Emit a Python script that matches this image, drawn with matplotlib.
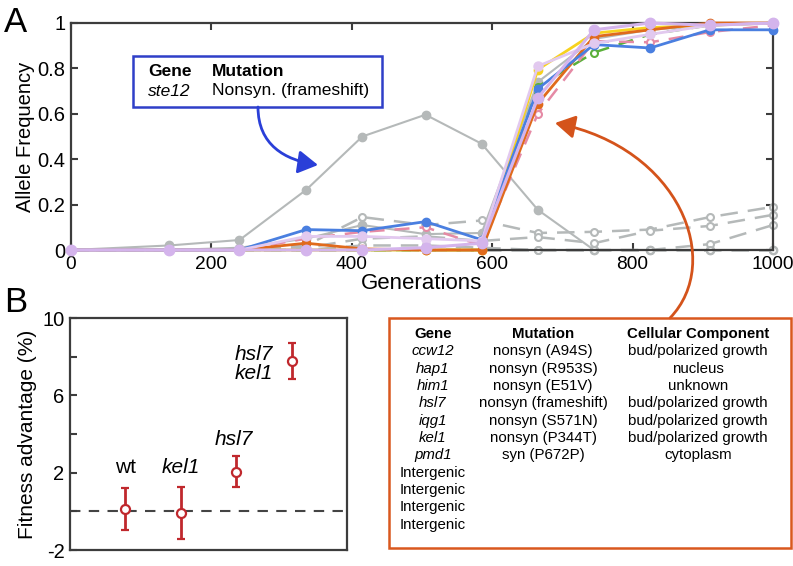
import numpy as np
import matplotlib
matplotlib.use('Agg')
import matplotlib.pyplot as plt
from matplotlib.patches import Rectangle, FancyArrowPatch
from matplotlib.path import Path

plt.rcParams['font.family'] = ['Liberation Sans', 'DejaVu Sans']

# ---- panel A data ----
gens = [0, 140, 240, 335, 415, 505, 585, 665, 745, 825, 910, 1000]

ste12 = [0, 0.02, 0.044, 0.265, 0.50, 0.596, 0.468, 0.177, 0, 0, 0, 0]
gray2 = [0, 0, 0.01, 0.05, 0.11, 0.07, 0.075, 0.74, 0.93, 0.97, 0.99, 1.0]
intergenic = [
    [0, 0, 0, 0.02, 0.145, 0.11, 0.13, 0.075, 0.08, 0.09, 0.145, 0.19],
    [0, 0, 0, 0.01, 0.05, 0.06, 0.04, 0.057, 0.03, 0.085, 0.106, 0.155],
    [0, 0, 0, 0.0, 0.02, 0.02, 0.01, 0.0, 0.0, 0.0, 0.026, 0.11],
    [0, 0, 0, 0.0, 0.0, 0.0, 0.0, 0.0, 0.0, 0.0, 0.0, 0.0],
]

blue = [0, 0, 0, 0.09, 0.085, 0.125, 0.045, 0.71, 0.905, 0.89, 0.97, 0.97]
orange = [0, 0, 0, 0.03, 0.005, 0.0, 0.0, 0.645, 0.94, 0.97, 1.0, 1.0]
yellow = [0, 0, 0, 0, 0, 0, 0, 0.795, 0.955, 0.98, 0.99, 1.0]
green = [0, 0, 0, 0, 0, 0, 0, 0.72, 0.87, 0.95, 0.99, 1.0]
pink = [0, 0, 0, 0.05, 0.08, 0.10, 0.02, 0.60, 0.92, 0.915, 0.96, 0.99]
lav_light = [0, 0, 0, 0.06, 0.06, 0.05, 0.04, 0.81, 0.91, 0.95, 0.99, 1.0]
lavender = [0, 0, 0, 0, 0, 0.01, 0.03, 0.67, 0.97, 1.0, 0.99, 1.0]

# ---- panel B data ----
genotypes = ['wt', 'kel1', 'hsl7', 'hsl7\nkel1']
fitness = [0.12, -0.08, 2.05, 7.78]
fitness_err = [1.1, 1.35, 0.8, 0.95]

# ---- table data ----
tab_genes = ['ccw12', 'hap1', 'him1', 'hsl7', 'iqg1', 'kel1', 'pmd1',
             'Intergenic', 'Intergenic', 'Intergenic', 'Intergenic']
tab_mut = ['nonsyn (A94S)', 'nonsyn (R953S)', 'nonsyn (E51V)', 'nonsyn (frameshift)',
           'nonsyn (S571N)', 'nonsyn (P344T)', 'syn (P672P)']
tab_comp = ['bud/polarized growth', 'nucleus', 'unknown', 'bud/polarized growth',
            'bud/polarized growth', 'bud/polarized growth', 'cytoplasm']

W, H = 793, 566
def fx(x):
    return x / W
def fy(y):
    return 1 - y / H

fig = plt.figure(figsize=(W / 100, H / 100), dpi=100)
spine_c = '#3c3c3c'
GRAY = '#b5b9b9'

# ================= panel A =================
ax = fig.add_axes([fx(71), fy(250), 702 / W, 227 / H])
for s in ax.spines.values():
    s.set_color(spine_c)
    s.set_linewidth(1.6)

ax.plot(gens, ste12, '-o', color=GRAY, lw=1.5, ms=6, clip_on=False, zorder=2)
ax.plot(gens, gray2, '-o', color=GRAY, lw=1.5, ms=6, clip_on=False, zorder=2)
for ser in intergenic:
    ax.plot(gens, ser, '--o', color=GRAY, lw=1.8, ms=5, mfc='white', mew=1.5,
            dashes=(7, 4), clip_on=False, zorder=2)

ax.plot(gens, green, '--o', color='#5bb03a', lw=1.8, ms=5, mfc='white', mew=1.5,
        dashes=(6, 4), clip_on=False, zorder=3)
ax.plot(gens, pink, '--o', color='#e58aa5', lw=1.8, ms=5, mfc='white', mew=1.5,
        dashes=(6, 4), clip_on=False, zorder=3)
ax.plot(gens, yellow, '-o', color='#f7d21e', lw=2, ms=6, clip_on=False, zorder=3)
ax.plot(gens, orange, '-o', color='#e06a1c', lw=2, ms=6, clip_on=False, zorder=3)
ax.plot(gens, blue, '-o', color='#4a7fe0', lw=2, ms=6, clip_on=False, zorder=4)
ax.plot(gens, lav_light, '-o', color='#e2c9ef', lw=2, ms=6.5, clip_on=False, zorder=4)
ax.plot(gens, lavender, '-o', color='#d4b4ec', lw=2.2, ms=7.5, clip_on=False, zorder=5)

ax.set_xlim(0, 1000)
ax.set_ylim(0, 1)
ax.set_xticks([0, 200, 400, 600, 800, 1000])
ax.set_yticks([0, 0.2, 0.4, 0.6, 0.8, 1])
ax.set_yticklabels(['0', '0.2', '0.4', '0.6', '0.8', '1'])
ax.tick_params(direction='in', length=5, width=1.5, color=spine_c,
               top=True, right=True, labelsize=14.5, pad=4)
ax.tick_params(axis='x', labelsize=13.8)
ax.set_xlabel('Generations', fontsize=16, labelpad=0)
ax.set_ylabel('Allele Frequency', fontsize=14.5, labelpad=2)

# ste12 annotation box
fig.patches.append(Rectangle((fx(133), fy(107)), 249 / W, 51 / H, transform=fig.transFigure,
                             fill=False, ec='#2f3fc8', lw=1.8))
fig.text(fx(148), fy(72), 'Gene', fontsize=12.5, fontweight='bold', va='center')
fig.text(fx(212), fy(72), 'Mutation', fontsize=12.5, fontweight='bold', va='center')
fig.text(fx(148), fy(91), 'ste12', fontsize=12.5, style='italic', va='center')
fig.text(fx(212), fy(91), 'Nonsyn. (frameshift)', fontsize=12.5, va='center')

blue_path = Path([(fx(258), fy(107)), (fx(258), fy(145)), (fx(285), fy(160)), (fx(318), fy(165))],
                 [Path.MOVETO, Path.CURVE4, Path.CURVE4, Path.CURVE4])
fig.patches.append(FancyArrowPatch(path=blue_path, transform=fig.transFigure,
                                   arrowstyle='-|>,head_length=12,head_width=7',
                                   color='#2a3fd8', lw=2))

orange_path = Path([(fx(670), fy(318)), (fx(724), fy(262)), (fx(680), fy(148)), (fx(555), fy(123))],
                   [Path.MOVETO, Path.CURVE4, Path.CURVE4, Path.CURVE4])
fig.patches.append(FancyArrowPatch(path=orange_path, transform=fig.transFigure,
                                   arrowstyle='-|>,head_length=12,head_width=7',
                                   color='#d4531b', lw=2))

# ================= panel B =================
bx = fig.add_axes([fx(70), fy(550), 277 / W, 232 / H])
for s in bx.spines.values():
    s.set_color(spine_c)
    s.set_linewidth(1.6)
xpos = np.arange(1, len(genotypes) + 1)
bx.axhline(0, color='#444444', lw=1.5, dashes=(5, 4), zorder=1)
bx.errorbar(xpos, fitness, yerr=fitness_err, fmt='o', color='#c0282d', ms=6.5,
            mfc='white', mew=1.6, elinewidth=2, capsize=3, capthick=2, zorder=3)
bx.set_xlim(0, 5)
bx.set_ylim(-2, 10)
bx.set_xticks([])
bx.set_yticks([-2, 0, 2, 4, 6, 8, 10])
bx.set_yticklabels(['-2', '', '2', '', '6', '', '10'])
bx.tick_params(axis='y', direction='in', length=5, width=1.5, color=spine_c,
               labelsize=14.5, pad=4)
bx.set_ylabel('Fitness advantage (%)', fontsize=15, labelpad=4)

bx.text(1, 2.25, genotypes[0], fontsize=15, ha='center', va='center')
bx.text(2, 2.25, genotypes[1], fontsize=15, ha='center', va='center', style='italic')
bx.text(2.95, 3.7, genotypes[2], fontsize=15, ha='center', va='center', style='italic')
bx.text(3.66, 7.62, genotypes[3], fontsize=15, ha='right', va='center', style='italic',
        linespacing=1.05)

# panel letters
fig.text(fx(4), fy(22), 'A', fontsize=25, va='center', ha='left')
fig.text(fx(4), fy(302), 'B', fontsize=25, va='center', ha='left')

# ================= table box =================
fig.patches.append(Rectangle((fx(389), fy(548)), 402 / W, 230 / H, transform=fig.transFigure,
                             fill=False, ec='#d9581e', lw=1.8))
cols = [433, 543, 698]
ty0 = 334
dy = 17.35
for c, t in zip(cols, ['Gene', 'Mutation', 'Cellular Component']):
    fig.text(fx(c), fy(ty0), t, fontsize=10.8, fontweight='bold', ha='center', va='center')
for i, g in enumerate(tab_genes):
    yy = ty0 + dy * (i + 1)
    st = 'normal' if g == 'Intergenic' else 'italic'
    fig.text(fx(cols[0]), fy(yy), g, fontsize=10.8, style=st, ha='center', va='center')
for i, (m, cc) in enumerate(zip(tab_mut, tab_comp)):
    yy = ty0 + dy * (i + 1)
    fig.text(fx(cols[1]), fy(yy), m, fontsize=10.8, ha='center', va='center')
    fig.text(fx(cols[2]), fy(yy), cc, fontsize=10.8, ha='center', va='center')

fig.savefig('out.png', dpi=100)
